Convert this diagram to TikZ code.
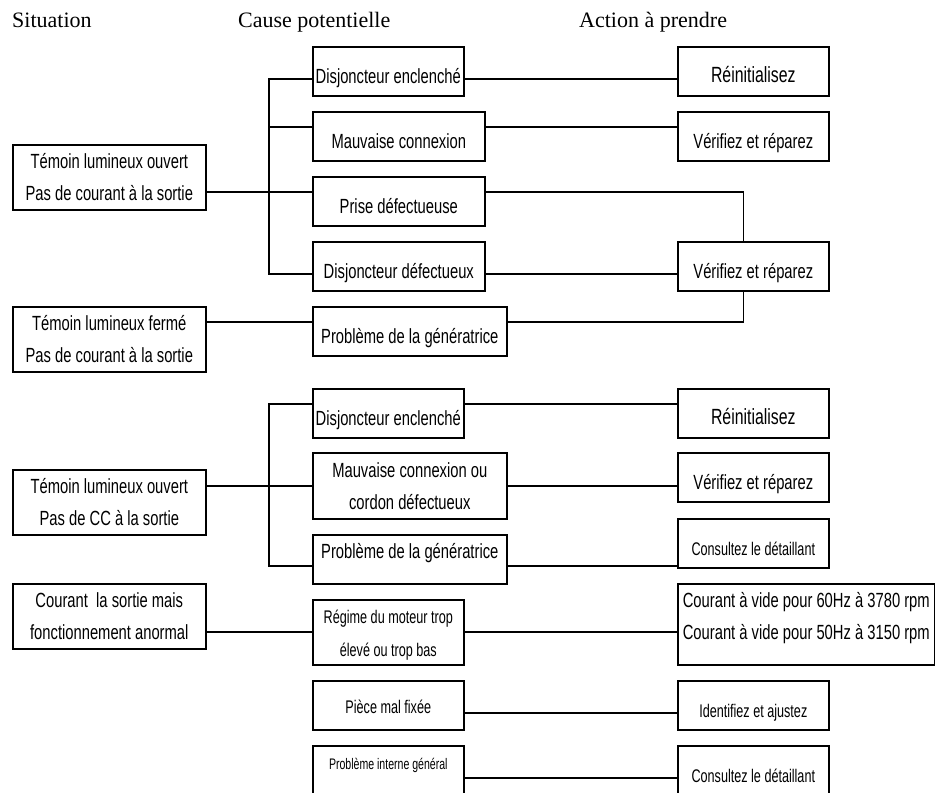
\documentclass[tikz,border=0pt]{standalone}
\usepackage{fontspec}
\setmainfont{Liberation Serif}
\newfontfamily\nar[FakeStretch=0.72]{Liberation Sans}
\newfontfamily\nars[FakeStretch=0.69]{Liberation Sans}
\usetikzlibrary{positioning}

\begin{document}
\begin{tikzpicture}[x=1pt, y=-1pt,
  box/.style={draw, line width=1.6pt, inner sep=0pt, anchor=north west, minimum height=49pt, text height=37pt, text depth=12pt, font=\nar\fontsize{20.5}{32}\selectfont},
  two/.style={align=center, text height=56pt, text depth=9pt},
  sm/.style={font=\nars\fontsize{18.3}{33}\selectfont},
  big/.style={font=\nar\fontsize{22}{26}\selectfont, text height=36pt, text depth=13pt},
  hdr/.style={anchor=base west, inner sep=0pt, font=\fontsize{22}{26}\selectfont},
  lnk/.style={line width=1.6pt}]
\useasboundingbox (0,0) rectangle (935,793);
\clip (0,0) rectangle (935,793);
% column heads
\node[hdr] (hSit) at (12,27) {Situation};
\node[hdr] (hCause) at (238,27) {Cause potentielle};
\node[hdr] (hAction) at (579,27) {Action à prendre};
% situations
\node[box, two, minimum width=193pt] (ouvert) at (12,144) {Témoin lumineux ouvert\\Pas de courant à la sortie};
\node[box, two, minimum width=193pt] (ferme) at (12,306) {Témoin lumineux fermé\\Pas de courant à la sortie};
\node[box, two, minimum width=193pt] (ouvcc) at (12,469) {Témoin lumineux ouvert\\Pas de CC à la sortie};
\node[box, two, minimum width=193pt] (anormal) at (12,583) {Courant~ la sortie mais\\fonctionnement anormal};
% causes
\node[box, minimum width=151pt] (disjA) at (312,46) {Disjoncteur enclenché};
\node[box, minimum width=172pt] (conn) at (312,111) {Mauvaise connexion};
\node[box, minimum width=172pt] (prise) at (312,176) {Prise défectueuse};
\node[box, minimum width=172pt] (disjD) at (312,241) {Disjoncteur défectueux};
\node[box, minimum width=194pt] (geneA) at (312,306) {Problème de la génératrice};
\node[box, minimum width=151pt] (disjB) at (312,388) {Disjoncteur enclenché};
\node[box, two, minimum width=194pt, text height=57pt] (cordon) at (312,452) {Mauvaise connexion ou\\cordon défectueux};
\node[box, minimum width=194pt, text height=24pt, text depth=25pt] (geneB) at (312,534) {Problème de la génératrice};
\node[box, sm, two, minimum width=151pt, text height=57pt, text depth=8pt] (regime) at (312,599) {Régime du moteur trop\\élevé ou trop bas};
\node[box, sm, minimum width=151pt, text height=33pt, text depth=16pt] (piece) at (312,680) {Pièce mal fixée};
\node[box, minimum width=151pt, text height=24pt, text depth=30pt, font=\nars\fontsize{15.3}{17}\selectfont] (interne) at (312,745) {Problème interne général};
% actions
\node[box, big, minimum width=151pt] (reinA) at (677,46) {Réinitialisez};
\node[box, minimum width=151pt] (verA) at (677,111) {Vérifiez et réparez};
\node[box, minimum width=151pt] (verB) at (677,241) {Vérifiez et réparez};
\node[box, big, minimum width=151pt] (reinB) at (677,388) {Réinitialisez};
\node[box, minimum width=151pt] (verC) at (677,452) {Vérifiez et réparez};
\node[box, sm, minimum width=151pt] (consA) at (677,518) {Consultez le détaillant};
\node[box, two, minimum width=257pt, text height=56pt, text depth=25pt] (vide) at (677,583) {Courant à vide pour 60Hz à 3780 rpm\\Courant à vide pour 50Hz à 3150 rpm};
\node[box, sm, minimum width=151pt] (ident) at (677,680) {Identifiez et ajustez};
\node[box, sm, minimum width=151pt, text depth=15pt] (consB) at (677,745) {Consultez le détaillant};
% rows of the links
\foreach \yy [count=\i] in {79,127,192,274,322,404,486,566,632,713,778}
  \coordinate (r\i) at (0,\yy);
\coordinate (jA) at (269,192);
\coordinate (jB) at (269,486);
% first group
\draw[lnk] (disjA.west |- r1) -| (jA) |- (disjD.west |- r4);
\draw[lnk] (conn.west |- r2) -- (jA |- r2);
\draw[lnk] (ouvert.east |- r3) -- (prise.west |- r3);
\draw[lnk] (ferme.east |- r5) -- (geneA.west |- r5);
\draw[lnk] (disjA.east |- r1) -- (reinA.west |- r1);
\draw[lnk] (conn.east |- r2) -- (verA.west |- r2);
\draw[lnk] (prise.east |- r3) -| ([xshift=-10pt]verB.north);
\draw[lnk] (disjD.east |- r4) -- (verB.west |- r4);
\draw[lnk] (geneA.east |- r5) -| ([xshift=-10pt]verB.south);
% second group
\draw[lnk] (disjB.west |- r6) -| (jB) |- (geneB.west |- r8);
\draw[lnk] (ouvcc.east |- r7) -- (cordon.west |- r7);
\draw[lnk] (anormal.east |- r9) -- (regime.west |- r9);
\draw[lnk] (disjB.east |- r6) -- (reinB.west |- r6);
\draw[lnk] (cordon.east |- r7) -- (verC.west |- r7);
\draw[lnk] (geneB.east |- r8) -- (consA.west |- r8);
\draw[lnk] (regime.east |- r9) -- (vide.west |- r9);
\draw[lnk] (piece.east |- r10) -- (ident.west |- r10);
\draw[lnk] (interne.east |- r11) -- (consB.west |- r11);
\end{tikzpicture}
\end{document}
